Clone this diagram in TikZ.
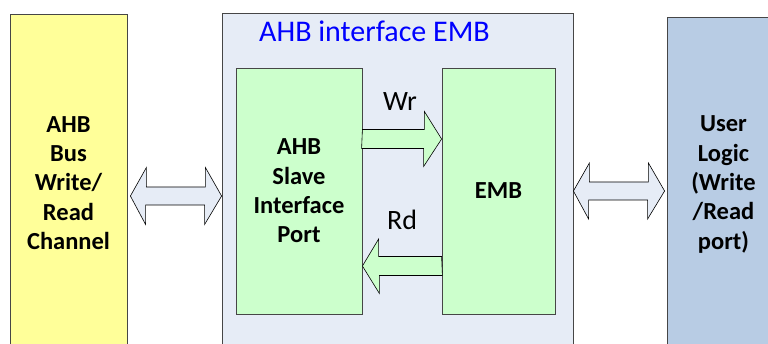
\documentclass[tikz,border=0pt]{standalone}
\usepackage{fontspec}
\setmainfont{Carlito}
\usetikzlibrary{calc}
\definecolor{busyellow}{RGB}{255, 255, 153}
\definecolor{embblue}{RGB}{230, 236, 246}
\definecolor{portgreen}{RGB}{204, 255, 204}
\definecolor{userblue}{RGB}{184, 204, 228}
\definecolor{edgegrey}{RGB}{70, 70, 70}
\definecolor{titleblue}{RGB}{0, 0, 255}

\begin{document}
\begin{tikzpicture}[x=1pt, y=-1pt,
    block/.style={draw=edgegrey, line width=0.8pt, inner sep=0pt, align=center,
                  font=\fontsize{24.5}{29.3}\selectfont\bfseries},
    blockarrow/.style={draw=black, line width=0.6pt, fill=portgreen, line join=miter},
    dblarrow/.style={draw=black, line width=0.6pt, fill=embblue, line join=miter}]
    \useasboundingbox (0,0) rectangle (768,344);
    \clip (0,0) rectangle (768,344);

    % outer blocks
    \node[block, fill=busyellow, minimum width=117, minimum height=337] (bus) at (68.5,183)
        {AHB\\Bus\\Write/\\Read\\Channel};
    \node[block, fill=embblue, minimum width=351, minimum height=337] (outer) at (397.5,181.5) {};
    \node[block, fill=userblue, minimum width=113, minimum height=335] (user) at (723.5,184.5)
        {User\\Logic\\(Write\\/Read\\port)};
    \node[font=\fontsize{30}{34}\selectfont, text=titleblue] (title) at (374.5,31) {AHB interface EMB};

    % inner blocks
    \node[block, fill=portgreen, minimum width=126, minimum height=246] (slave) at (299,191)
        {AHB\\Slave\\Interface\\Port};
    \node[block, fill=portgreen, minimum width=113, minimum height=246] (emb) at (498.5,191) {EMB};

    % write / read paths
    \draw[blockarrow] ($(slave.east)+(0,-61.5)$) -- ++(62,0) -- ++(0,-18)
        -- ($(emb.west)+(0,-52)$) -- ++(-18,27.5) -- ++(0,-18) -- ++(-62,0) -- cycle;
    \node[font=\fontsize{28}{32}\selectfont] (wr) at (400,102) {Wr};

    \draw[blockarrow] ($(emb.west)+(0,65.5)$) -- ++(-63,0) -- ++(0,-17.5)
        -- ($(slave.east)+(0,75)$) -- ++(17,27.5) -- ++(0,-18) -- ++(63,0) -- cycle;
    \node[font=\fontsize{28}{32}\selectfont] (rd) at (402,220) {Rd};

    % bus side and user side
    \draw[dblarrow] ($(bus.east)+(3,13)$) -- ++(16,-28.5) -- ++(0,19.5) -- ++(59,0) -- ++(0,-19.5)
        -- ($(outer.west)+(0,14.5)$) -- ++(-17,28.5) -- ++(0,-19.5) -- ++(-59,0) -- ++(0,19.5) -- cycle;
    \draw[dblarrow] ($(outer.east)+(0,9.5)$) -- ++(16,-28) -- ++(0,19) -- ++(59,0) -- ++(0,-19)
        -- ($(user.west)+(-2,6.5)$) -- ++(-17,28) -- ++(0,-19) -- ++(-59,0) -- ++(0,19) -- cycle;
\end{tikzpicture}
\end{document}
